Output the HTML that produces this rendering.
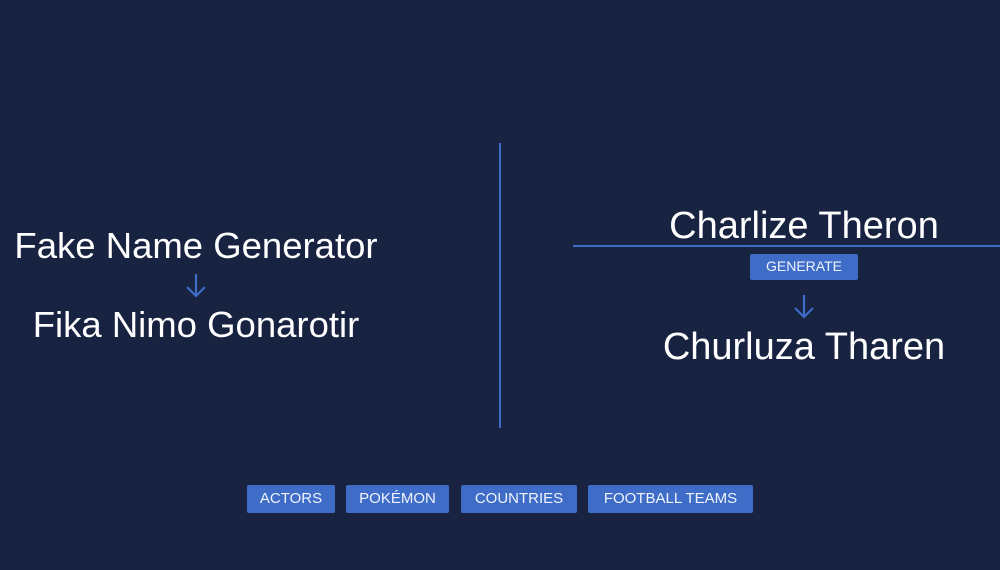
<!DOCTYPE html>
<html><head><style>
body{margin:0;width:1000px;height:570px;background:#172340;position:relative;overflow:hidden;font-family:"Liberation Sans",sans-serif;color:#fff}
.t{position:absolute;font-size:37px;white-space:nowrap;transform:translateX(-50%);line-height:40px}
.b{position:absolute;background:#3e6cc6;border-radius:2px;font-size:15px;color:#f0f4ff;text-align:center;line-height:28px;height:28px}
.l{position:absolute;background:#3e6cc6}
</style></head><body>
<div class="t" style="left:196px;top:226px;font-size:36.5px">Fake Name Generator</div>
<svg style="position:absolute;left:184px;top:272px" width="24" height="28"><path d="M12 2V24M3 15L12 24L21 15" stroke="#3e6cc6" stroke-width="2.2" fill="none"/></svg>
<div class="t" style="left:196px;top:305px;font-size:36.5px">Fika Nimo Gonarotir</div>
<div class="l" style="left:499px;top:143px;width:2px;height:285px"></div>
<div class="t" style="left:804px;top:206px;font-size:38px">Charlize Theron</div>
<div class="l" style="left:573px;top:245px;width:427px;height:2px"></div>
<div class="b" style="left:750px;top:254px;width:108px;height:26px;line-height:24px;font-size:14px">GENERATE</div>
<svg style="position:absolute;left:792px;top:293px" width="24" height="28"><path d="M12 2V24M3 15L12 24L21 15" stroke="#3e6cc6" stroke-width="2.2" fill="none"/></svg>
<div class="t" style="left:804px;top:327px;font-size:38px">Churluza Tharen</div>
<div class="b" style="left:247px;top:485px;width:88px">ACTORS</div>
<div class="b" style="left:346px;top:485px;width:103px">POKÉMON</div>
<div class="b" style="left:461px;top:485px;width:116px">COUNTRIES</div>
<div class="b" style="left:588px;top:485px;width:165px">FOOTBALL TEAMS</div>
</body></html>
